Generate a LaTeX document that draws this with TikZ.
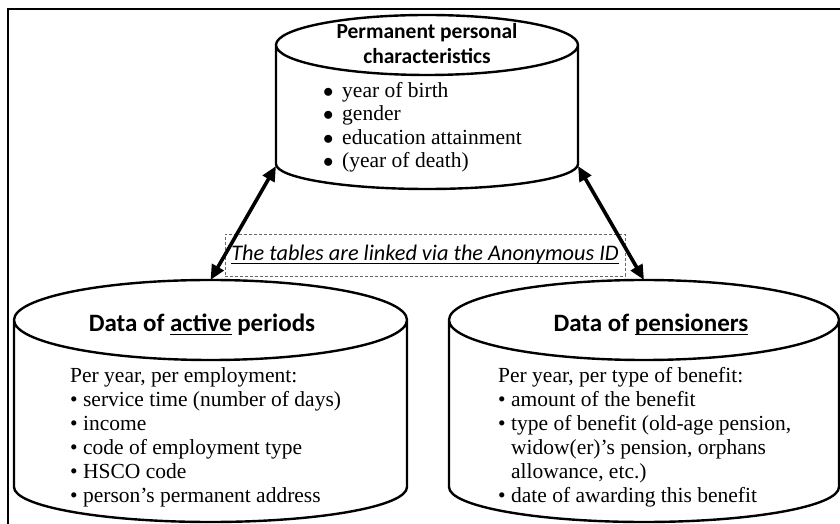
\documentclass[tikz,border=0pt]{standalone}
\usepackage{fontspec}
\setmainfont{Liberation Serif}
\newfontfamily\calibri{Carlito}
\usetikzlibrary{positioning,calc,arrows.meta}

% underline at a fixed depth
\newcommand{\undl}[1]{\setbox0\hbox{#1}\rlap{\rule[-3.5pt]{\wd0}{1.4pt}}\box0{}}
% cylinder outline round a named node; #2, #3 = y radius of top and bottom cap (pt)
\newcommand{\dbdraw}[3]{%
  \draw[cylline] let \p1=(#1.north west), \p2=(#1.south east),
                     \n1={(\x2-\x1)/2} in
    (\x1,\y1-#2pt) -- (\x1,\y2+#3pt)
    arc[start angle=180, end angle=360, x radius=\n1, y radius=#3pt]
    -- (\x2,\y1-#2pt)
    arc[start angle=0, end angle=180, x radius=\n1, y radius=#2pt]
    arc[start angle=180, end angle=360, x radius=\n1, y radius=#2pt];
}

\tikzset{
  dbcyl/.style={rectangle, inner sep=0pt, outer sep=0pt},
  cylline/.style={line width=2.4pt, line join=round},
  cyltitle/.style={font=\calibri\bfseries\fontsize{25}{30}\selectfont,
                   align=center, inner sep=0pt},
  cylbody/.style={font=\fontsize{21.5}{24}\selectfont, align=left,
                  inner sep=0pt, anchor=north west},
  linkarrow/.style={{Triangle[length=15pt,width=13pt]}-{Triangle[length=15pt,width=13pt]},
                    line width=3.6pt}
}

\begin{document}
\begin{tikzpicture}[x=1pt, y=1pt]
  \useasboundingbox (0,0) rectangle (840,524);
  % frame
  \draw[line width=2.6pt] (8,0) -- (8,515) -- (840,515);

  % the three tables
  \node[dbcyl, minimum width=302pt, minimum height=174pt] (perm) at (427,422) {};
  \node[dbcyl, minimum width=393pt, minimum height=242pt] (act) at (210.5,123) {};
  \node[dbcyl, minimum width=390pt, minimum height=242pt] (pens) at (644,123) {};
  \dbdraw{perm}{30}{25}
  \dbdraw{act}{40}{35}
  \dbdraw{pens}{40}{35}

  \node[cyltitle, font=\calibri\bfseries\fontsize{21.5}{25}\selectfont]
    (permtitle) at (427,480.5) {Permanent personal\\characteristics};
  \node[cylbody, font=\fontsize{21.5}{23.5}\selectfont]
    (permlist) at (323,442)
    {\makebox[19pt][l]{$\bullet$}year of birth\\
     \makebox[19pt][l]{$\bullet$}gender\\
     \makebox[19pt][l]{$\bullet$}education attainment\\
     \makebox[19pt][l]{$\bullet$}(year of death)};

  \node[cyltitle] (acttitle) at (202,199) {Data of \undl{active} periods};
  \node[cylbody] (actlist) at (70,156.5)
    {Per year, per employment:\\
     \textbullet\ service time (number of days)\\
     \textbullet\ income\\
     \textbullet\ code of employment type\\
     \textbullet\ HSCO code\\
     \textbullet\ person's permanent address};

  \node[cyltitle] (penstitle) at (651,199) {Data of \undl{pensioners}};
  \node[cylbody] (penslist) at (498,156.5)
    {Per year, per type of benefit:\\
     \textbullet\ amount of the benefit\\
     \textbullet\ type of benefit (old-age pension,\\
     \hphantom{\textbullet\ }widow(er)'s pension, orphans\\
     \hphantom{\textbullet\ }allowance, etc.)\\
     \textbullet\ date of awarding this benefit};

  % link note
  \node[draw=black!60, dash pattern=on 3pt off 2pt, line width=0.8pt,
        minimum width=400pt, minimum height=42pt, inner sep=0pt,
        font=\calibri\itshape\fontsize{22.3}{26}\selectfont]
    (idnote) at (425,269) {\undl{The tables are linked via the Anonymous ID}};

  \draw[linkarrow] ([yshift=23pt]perm.south west) -- (act.north);
  \draw[linkarrow] ([yshift=23pt]perm.south east) -- (pens.north);
\end{tikzpicture}
\end{document}
